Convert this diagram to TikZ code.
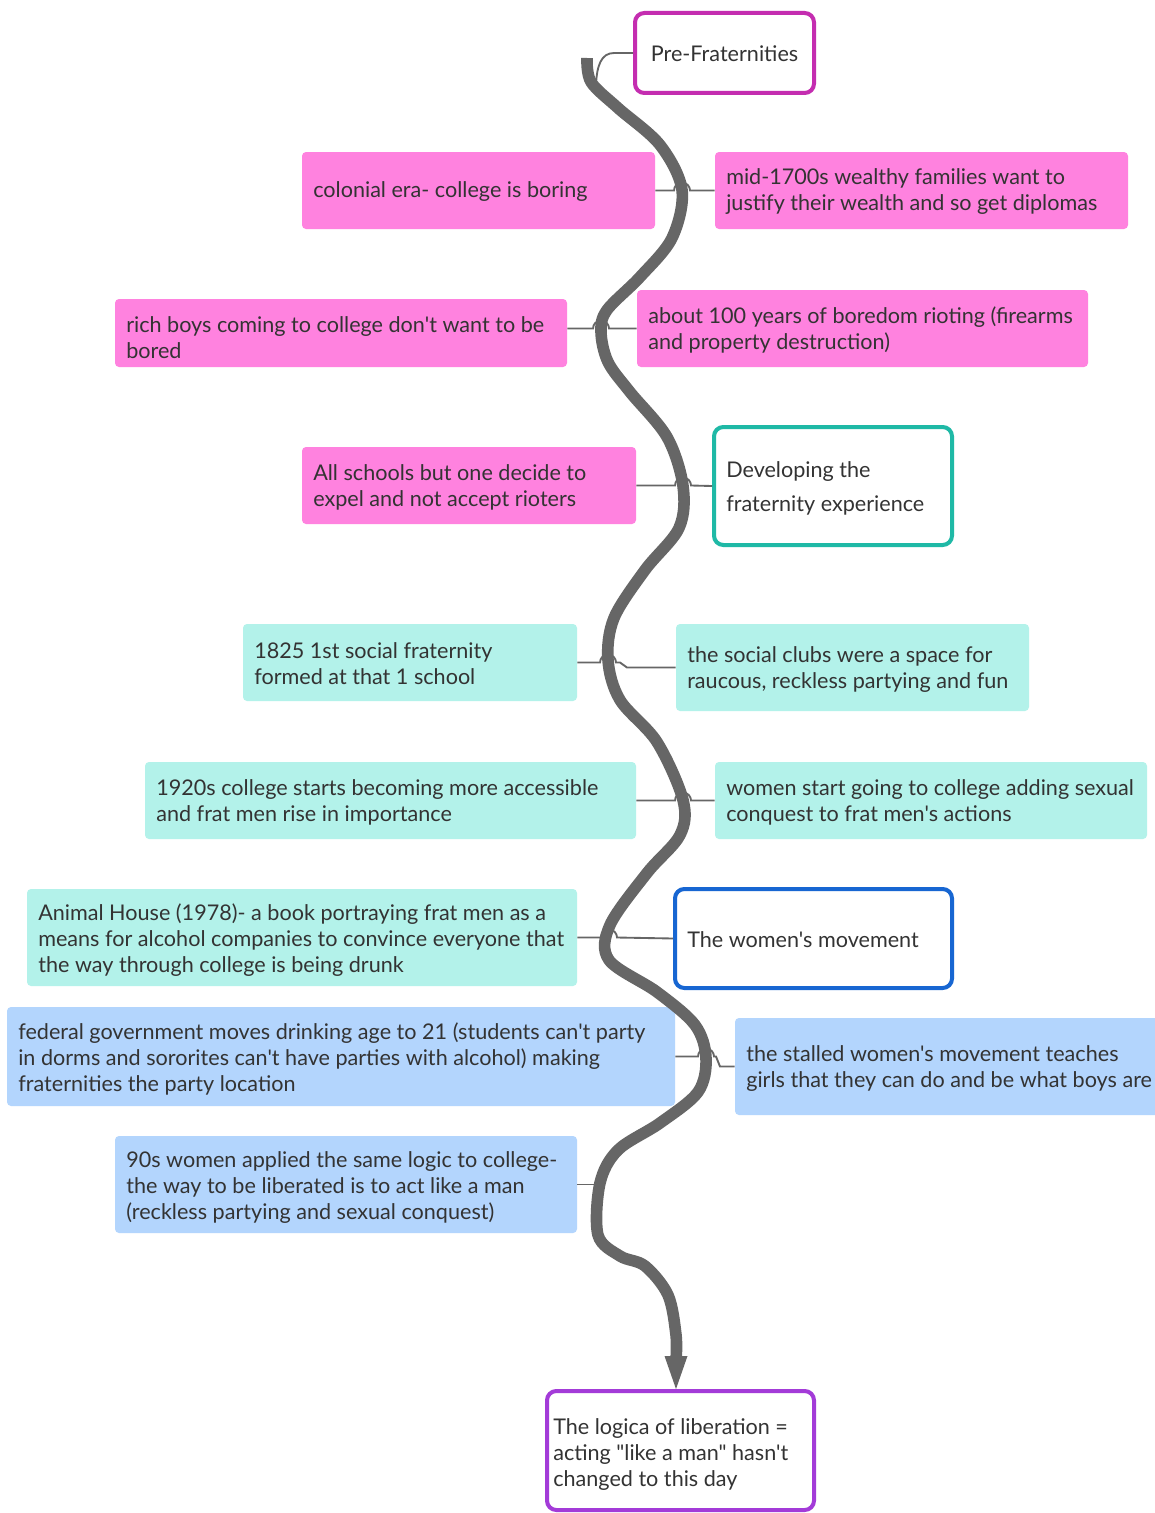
\documentclass[tikz,border=0pt]{standalone}
\usepackage{fontspec}
\setmainfont{Lato}[Ligatures=TeXOff]
\usetikzlibrary{fit}
\definecolor{pinkF}{HTML}{FF82DF}
\definecolor{tealF}{HTML}{B3F2EA}
\definecolor{blueF}{HTML}{B3D5FD}
\definecolor{magB}{HTML}{C42DB0}
\definecolor{tealB}{HTML}{1FB9A6}
\definecolor{blueB}{HTML}{1766D2}
\definecolor{purpB}{HTML}{A33BD8}
\definecolor{spinec}{HTML}{666666}
\definecolor{txtc}{HTML}{333333}
\tikzset{
  boxbase/.style={inner sep=0pt, rounded corners=3pt},
  pinkbox/.style={boxbase, fill=pinkF},
  tealbox/.style={boxbase, fill=tealF},
  bluebox/.style={boxbase, fill=blueF},
  framebox/.style={inner sep=0pt, rounded corners=7pt, line width=3pt, fill=white},
  txt/.style={anchor=west, align=left, inner sep=0pt, text=txtc, font=\fontsize{16.2}{19.5}\selectfont},
  conn/.style={draw=spinec, line width=1.4pt},
  spine/.style={draw=spinec, line width=8.7pt},
}
\begin{document}
\begin{tikzpicture}[x=0.75pt,y=-0.75pt]
\useasboundingbox (0,0) rectangle (1154,1513);
\fill[white] (0,0) rectangle (1154,1513);

% boxes
\node[framebox, draw=magB, fit={(635,13)(814,93)}] (b1) {};
\node[pinkbox, fit={(302,152)(655,229)}] (b2) {};
\node[pinkbox, fit={(715,152)(1128,229)}] (b3) {};
\node[pinkbox, fit={(115,299)(567,367)}] (b4) {};
\node[pinkbox, fit={(637,290)(1088,367)}] (b5) {};
\node[pinkbox, fit={(302,447)(636,524)}] (b6) {};
\node[framebox, draw=tealB, fit={(714,427)(952,545)}] (b7) {};
\node[tealbox, fit={(243,624)(577,701)}] (b8) {};
\node[tealbox, fit={(676,624)(1029,711)}] (b9) {};
\node[tealbox, fit={(145,762)(636,839)}] (b10) {};
\node[tealbox, fit={(715,762)(1147,839)}] (b11) {};
\node[tealbox, fit={(27,889)(577,986)}] (b12) {};
\node[framebox, draw=blueB, fit={(675,889)(952,988)}] (b13) {};
\node[bluebox, fit={(7,1007)(675,1106)}] (b14) {};
\node[bluebox, fit={(735,1018)(1162,1115)}] (b15) {};
\node[bluebox, fit={(115,1136)(577,1233)}] (b16) {};
\node[framebox, draw=purpB, fit={(547,1391)(814,1510)}] (b17) {};

% connectors
\draw[conn] (b1.west) -- (614,53) .. controls (601,53) and (597,66) .. (596,84);
\draw[conn] (b2.east) -- (674,190.5) arc[start angle=180,end angle=0,radius=6pt] -- (b3.west);
\draw[conn] (b4.east |- b5.west) -- (593,328.5) arc[start angle=180,end angle=0,radius=6pt] -- (b5.west);
\draw[conn] (b6.east) -- (675,485.5) arc[start angle=180,end angle=0,radius=6pt] -- (b7.west);
\draw[conn] (b8.east) -- (600,662.5) arc[start angle=180,end angle=0,radius=6pt] -- (620,662.5) -- (627,667.5) -- (b9.west);
\draw[conn] (b10.east) -- (675,800.5) arc[start angle=180,end angle=0,radius=6pt] -- (b11.west);
\draw[conn] (b12.east) -- (601,937.5) arc[start angle=180,end angle=0,radius=6pt] -- (b13.west);
\draw[conn] (b14.east) -- (698,1056.5) arc[start angle=180,end angle=0,radius=6pt] -- (716,1056.5) -- (720,1066.5) -- (b15.west);
\draw[conn] (b16.east) -- (598,1184.5);

% spine
\draw[spine] plot[smooth, tension=0.55] coordinates {(587,58) (591,82) (618,108) (660,145) (682,190) (672,238) (640,277) (607,310) (601,332) (608,362) (630,392) (667,437) (683,486) (679,528) (645,570) (614,618) (608,660) (620,700) (657,742) (683,800) (680,835) (647,873) (610,925) (609,960) (657,992) (695,1025) (706,1058) (698,1092) (660,1123) (618,1150) (600,1183) (598,1235) (620,1256) (645,1266) (668,1295) (676,1335) (676,1360)};
\fill[spinec] (664.5,1356) -- (687.5,1356) -- (676,1389) -- cycle;

% texts
\node[txt, anchor=center] (t1) at ([yshift=-0.75pt]b1.center) {Pre-Fraternities};
\node[txt] (t2) at (313,192) {colonial era- college is boring};
\node[txt] (t3) at (726,192) {mid-1700s wealthy families want to\\justify their wealth and so get diplomas};
\node[txt] (t4) at (126,338) {rich boys coming to college don't want to be\\bored};
\node[txt] (t5) at (648,330) {about 100 years of boredom rioting (firearms\\and property destruction)};
\node[txt] (t6) at (313,487) {All schools but one decide to\\expel and not accept rioters};
\node[txt, font=\fontsize{16.2}{25.5}\selectfont] (t7) at (726,488) {Developing the\\fraternity experience};
\node[txt] (t8) at (254,664) {1825 1st social fraternity\\formed at that 1 school};
\node[txt] (t9) at (687,670) {the social clubs were a space for\\raucous, reckless partying and fun};
\node[txt] (t10) at (156,802) {1920s college starts becoming more accessible\\and frat men rise in importance};
\node[txt] (t11) at (726,802) {women start going to college adding sexual\\conquest to frat men's actions};
\node[txt] (t12) at (38,940) {Animal House (1978)- a book portraying frat men as a\\means for alcohol companies to convince everyone that\\the way through college is being drunk};
\node[txt] (t13) at (687,940) {The women's movement};
\node[txt] (t14) at (18,1059) {federal government moves drinking age to 21 (students can't party\\in dorms and sororites can't have parties with alcohol) making\\fraternities the party location};
\node[txt] (t15) at (746,1069) {the stalled women's movement teaches\\girls that they can do and be what boys are};
\node[txt] (t16) at (126,1188) {90s women applied the same logic to college-\\the way to be liberated is to act like a man\\(reckless partying and sexual conquest)};
\node[txt] (t17) at (553,1454) {The logica of liberation =\\acting "like a man" hasn't\\changed to this day};
\end{tikzpicture}
\end{document}
